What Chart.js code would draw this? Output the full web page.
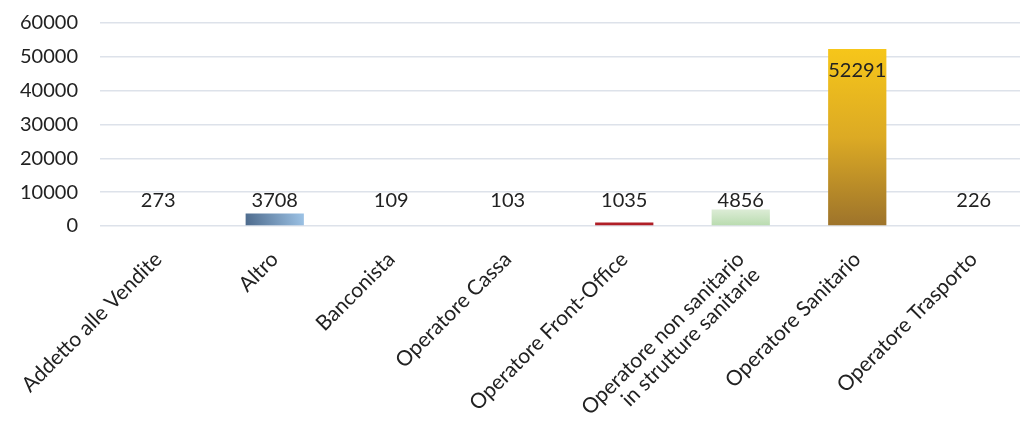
<!DOCTYPE html>
<html>
<head>
<meta charset="utf-8">
<script src="https://cdn.jsdelivr.net/npm/chart.js@4"></script>
<style>
  html, body { margin: 0; padding: 0; background: #fff; overflow: hidden; }
  #wrap { width: 1032px; height: 438px; }
</style>
</head>
<body>
<div id="wrap"><canvas id="c"></canvas></div>
<script>
// categorie e valori
const categorie = [
    'Addetto alle Vendite',
    'Altro',
    'Banconista',
    'Operatore Cassa',
    'Operatore Front-Office',
    ['Operatore non sanitario', 'in strutture sanitarie'],
    'Operatore Sanitario',
    'Operatore Trasporto'
];
const valori = [273, 3708, 109, 103, 1035, 4856, 52291, 226];
const tickY = [0, 10000, 20000, 30000, 40000, 50000, 60000];

const FONT = 'Lato, "Open Sans", sans-serif';

// colore di ogni barra (gradienti come nell'originale)
function coloreBarra(context) {
    const chart = context.chart;
    const i = context.dataIndex;
    const area = chart.chartArea;
    if (!area) return '#ccc';
    const c = chart.ctx;
    const xs = chart.scales.x, ys = chart.scales.y;
    const x = xs.getPixelForValue(i);
    const w = xs.width / categorie.length * 0.5;
    const top = ys.getPixelForValue(valori[i]);
    const base = ys.getPixelForValue(0);
    let g;
    switch (i) {
        case 1:
            g = c.createLinearGradient(x - w / 2, base, x + w / 2, top);
            g.addColorStop(0, '#4d6a8c');
            g.addColorStop(1, '#9dc3e6');
            return g;
        case 4:
            return '#b01e26';
        case 5:
            g = c.createLinearGradient(0, top, 0, base);
            g.addColorStop(0, '#dcecd6');
            g.addColorStop(1, '#b8dbae');
            return g;
        case 6:
            g = c.createLinearGradient(0, top, 0, base);
            g.addColorStop(0, '#f6c61a');
            g.addColorStop(0.5, '#dcaa24');
            g.addColorStop(1, '#9d732b');
            return g;
        default:
            return '#dde2ea';
    }
}

// etichette dei valori
const etichette = {
    id: 'etichette',
    afterDatasetsDraw(chart) {
        const c = chart.ctx;
        const meta = chart.getDatasetMeta(0);
        c.save();
        c.font = '20px ' + FONT;
        c.fillStyle = '#222';
        c.textAlign = 'center';
        c.textBaseline = 'middle';
        meta.data.forEach((bar, i) => {
            const y = Math.min(bar.base - 25, bar.y + 21);
            c.fillText(String(valori[i]), bar.x, y);
        });
        c.restore();
    }
};

new Chart(document.getElementById('c'), {
    type: 'bar',
    data: {
        labels: categorie,
        datasets: [{
            data: valori,
            backgroundColor: coloreBarra,
            barPercentage: 0.5,
            categoryPercentage: 1
        }]
    },
    options: {
        responsive: true,
        maintainAspectRatio: false,
        animation: false,
        layout: { padding: { top: 23, left: 0, right: 0, bottom: 0 } },
        plugins: {
            legend: { display: false },
            tooltip: { enabled: false }
        },
        scales: {
            x: {
                grid: { display: false, drawTicks: false },
                border: { display: false },
                ticks: {
                    autoSkip: false,
                    minRotation: 45,
                    maxRotation: 45,
                    padding: 22,
                    color: '#222',
                    font: { family: FONT, size: 21, lineHeight: 1.05 }
                },
                afterFit(scale) {
                    scale.height = 212;
                    scale.paddingLeft = 0;
                    scale.paddingRight = 0;
                }
            },
            y: {
                min: 0,
                max: 60000,
                afterBuildTicks(scale) {
                    scale.ticks = tickY.map(v => ({ value: v }));
                },
                // tacche trasparenti: spostano le etichette senza aggiungere spazio in alto
                grid: { color: '#dde2ea', lineWidth: 1.6, drawTicks: true, tickLength: 22, tickColor: 'rgba(0,0,0,0)' },
                border: { display: false },
                ticks: {
                    padding: 0,
                    color: '#222',
                    font: { family: FONT, size: 20 },
                    callback: v => String(v)
                },
                afterFit(scale) { scale.width = 100; }
            }
        }
    },
    plugins: [etichette]
});
</script>
</body>
</html>
